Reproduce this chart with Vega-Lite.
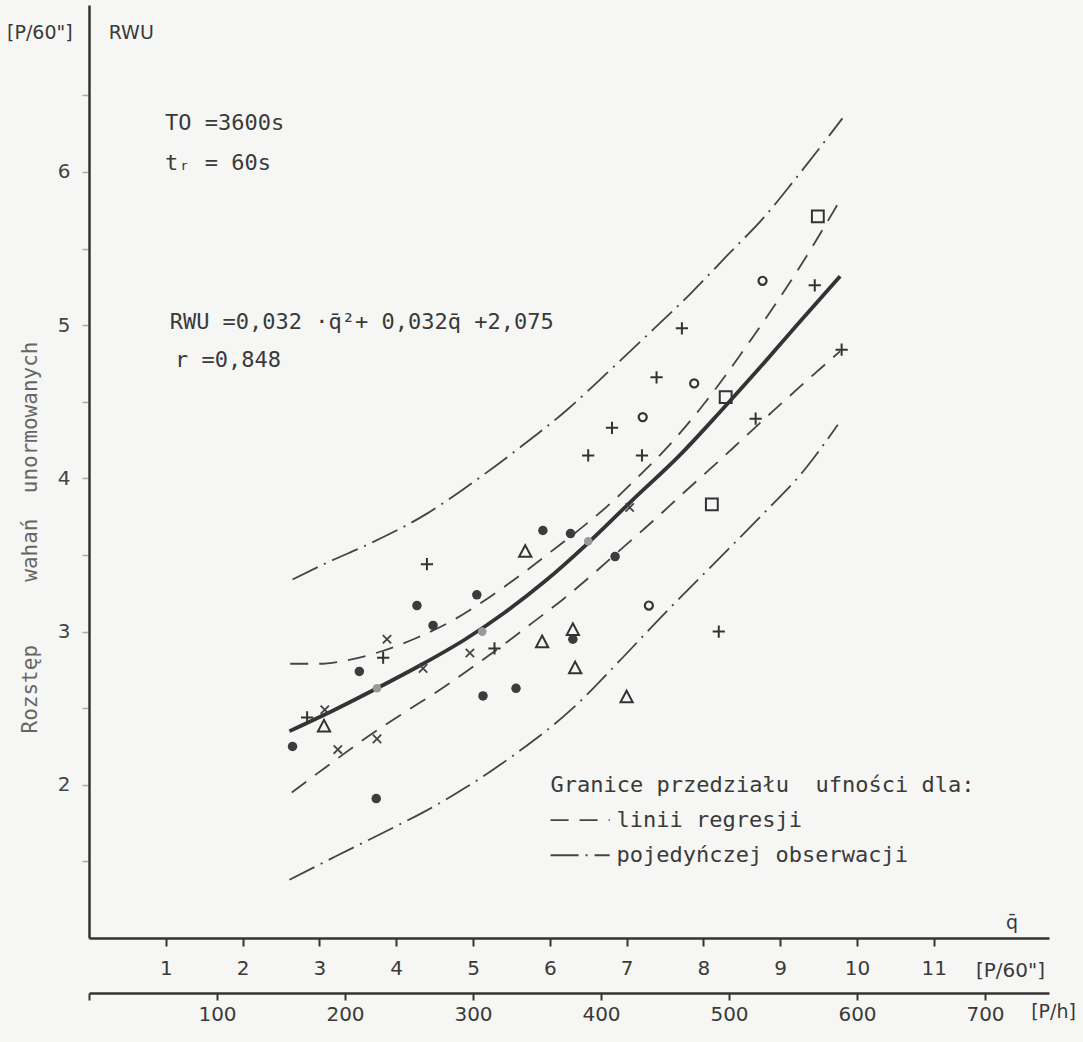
{
  "$schema": "https://vega.github.io/schema/vega-lite/v6.json",
  "width": 960,
  "height": 933,
  "autosize": "none",
  "padding": {"left": 89, "top": 5, "right": 34, "bottom": 104},
  "background": "#f6f6f4",
  "config": {
    "view": {"stroke": null},
    "font": "DejaVu Sans",
    "axis": {"grid": false, "labelFont": "DejaVu Sans", "titleFont": "DejaVu Sans", "titleFontWeight": "normal"}
  },
  "datasets": {
    "curves": [
      {"curve": "reg", "q": 2.61, "v": 2.35}, {"curve": "reg", "q": 3.2, "v": 2.49}, {"curve": "reg", "q": 3.75, "v": 2.63},
      {"curve": "reg", "q": 4.35, "v": 2.79}, {"curve": "reg", "q": 4.9, "v": 2.95}, {"curve": "reg", "q": 5.4, "v": 3.12},
      {"curve": "reg", "q": 5.94, "v": 3.33}, {"curve": "reg", "q": 6.48, "v": 3.57}, {"curve": "reg", "q": 7.08, "v": 3.86},
      {"curve": "reg", "q": 7.69, "v": 4.15}, {"curve": "reg", "q": 8.21, "v": 4.43}, {"curve": "reg", "q": 8.73, "v": 4.72},
      {"curve": "reg", "q": 9.25, "v": 5.02}, {"curve": "reg", "q": 9.78, "v": 5.32},

      {"curve": "reg_up", "q": 2.62, "v": 2.79}, {"curve": "reg_up", "q": 3.0, "v": 2.79}, {"curve": "reg_up", "q": 3.33, "v": 2.81},
      {"curve": "reg_up", "q": 3.8, "v": 2.87}, {"curve": "reg_up", "q": 4.27, "v": 2.96}, {"curve": "reg_up", "q": 4.76, "v": 3.08},
      {"curve": "reg_up", "q": 5.2, "v": 3.22}, {"curve": "reg_up", "q": 5.62, "v": 3.37}, {"curve": "reg_up", "q": 6.01, "v": 3.52},
      {"curve": "reg_up", "q": 6.42, "v": 3.68}, {"curve": "reg_up", "q": 6.82, "v": 3.85}, {"curve": "reg_up", "q": 7.17, "v": 4.02},
      {"curve": "reg_up", "q": 7.58, "v": 4.23}, {"curve": "reg_up", "q": 7.95, "v": 4.45}, {"curve": "reg_up", "q": 8.3, "v": 4.68},
      {"curve": "reg_up", "q": 8.64, "v": 4.92}, {"curve": "reg_up", "q": 9.23, "v": 5.36}, {"curve": "reg_up", "q": 9.75, "v": 5.79},

      {"curve": "reg_lo", "q": 2.64, "v": 1.95}, {"curve": "reg_lo", "q": 3.07, "v": 2.11}, {"curve": "reg_lo", "q": 3.59, "v": 2.3},
      {"curve": "reg_lo", "q": 4.1, "v": 2.47}, {"curve": "reg_lo", "q": 4.57, "v": 2.62}, {"curve": "reg_lo", "q": 5.0, "v": 2.77},
      {"curve": "reg_lo", "q": 5.44, "v": 2.93}, {"curve": "reg_lo", "q": 5.78, "v": 3.06}, {"curve": "reg_lo", "q": 6.17, "v": 3.21},
      {"curve": "reg_lo", "q": 6.55, "v": 3.37}, {"curve": "reg_lo", "q": 6.91, "v": 3.53}, {"curve": "reg_lo", "q": 7.34, "v": 3.72},
      {"curve": "reg_lo", "q": 7.73, "v": 3.9}, {"curve": "reg_lo", "q": 8.15, "v": 4.09}, {"curve": "reg_lo", "q": 8.54, "v": 4.27},
      {"curve": "reg_lo", "q": 8.93, "v": 4.45}, {"curve": "reg_lo", "q": 9.35, "v": 4.64}, {"curve": "reg_lo", "q": 9.78, "v": 4.83},

      {"curve": "obs_up", "q": 2.65, "v": 3.34}, {"curve": "obs_up", "q": 3.1, "v": 3.45}, {"curve": "obs_up", "q": 3.68, "v": 3.58},
      {"curve": "obs_up", "q": 4.4, "v": 3.77}, {"curve": "obs_up", "q": 4.96, "v": 3.96}, {"curve": "obs_up", "q": 5.58, "v": 4.19},
      {"curve": "obs_up", "q": 6.23, "v": 4.45}, {"curve": "obs_up", "q": 6.75, "v": 4.69}, {"curve": "obs_up", "q": 7.3, "v": 4.95},
      {"curve": "obs_up", "q": 7.84, "v": 5.21}, {"curve": "obs_up", "q": 8.32, "v": 5.46}, {"curve": "obs_up", "q": 8.8, "v": 5.71},
      {"curve": "obs_up", "q": 9.19, "v": 5.95}, {"curve": "obs_up", "q": 9.81, "v": 6.35},

      {"curve": "obs_lo", "q": 2.61, "v": 1.38}, {"curve": "obs_lo", "q": 3.2, "v": 1.53}, {"curve": "obs_lo", "q": 3.96, "v": 1.72},
      {"curve": "obs_lo", "q": 4.35, "v": 1.82}, {"curve": "obs_lo", "q": 4.93, "v": 1.99}, {"curve": "obs_lo", "q": 5.52, "v": 2.19},
      {"curve": "obs_lo", "q": 6.3, "v": 2.5}, {"curve": "obs_lo", "q": 6.91, "v": 2.81}, {"curve": "obs_lo", "q": 7.44, "v": 3.09},
      {"curve": "obs_lo", "q": 8.29, "v": 3.52}, {"curve": "obs_lo", "q": 8.78, "v": 3.77}, {"curve": "obs_lo", "q": 9.29, "v": 4.04},
      {"curve": "obs_lo", "q": 9.75, "v": 4.35},

      {"curve": "key_reg", "q": 6.01, "v": 1.77}, {"curve": "key_reg", "q": 6.78, "v": 1.77},
      {"curve": "key_obs", "q": 6.01, "v": 1.54}, {"curve": "key_obs", "q": 6.78, "v": 1.54}
    ],
    "points": [
      {"kind": "filled", "q": 2.65, "v": 2.25}, {"kind": "filled", "q": 3.52, "v": 2.74}, {"kind": "filled", "q": 3.74, "v": 1.91},
      {"kind": "filled", "q": 4.27, "v": 3.17}, {"kind": "filled", "q": 4.48, "v": 3.04}, {"kind": "filled", "q": 5.05, "v": 3.24},
      {"kind": "filled", "q": 5.13, "v": 2.58}, {"kind": "filled", "q": 5.56, "v": 2.63}, {"kind": "filled", "q": 5.91, "v": 3.66},
      {"kind": "filled", "q": 6.27, "v": 3.64}, {"kind": "filled", "q": 6.85, "v": 3.49}, {"kind": "filled", "q": 6.3, "v": 2.95},
      {"kind": "grey", "q": 3.75, "v": 2.63}, {"kind": "grey", "q": 5.12, "v": 3.0}, {"kind": "grey", "q": 6.5, "v": 3.59},
      {"kind": "open", "q": 7.88, "v": 4.62}, {"kind": "open", "q": 7.21, "v": 4.4}, {"kind": "open", "q": 7.29, "v": 3.17},
      {"kind": "open", "q": 8.77, "v": 5.29},
      {"kind": "square", "q": 9.49, "v": 5.71}, {"kind": "square", "q": 8.29, "v": 4.53}, {"kind": "square", "q": 8.11, "v": 3.83},
      {"kind": "plus", "q": 2.84, "v": 2.44}, {"kind": "plus", "q": 3.83, "v": 2.83}, {"kind": "plus", "q": 4.4, "v": 3.44},
      {"kind": "plus", "q": 5.28, "v": 2.89}, {"kind": "plus", "q": 6.5, "v": 4.15}, {"kind": "plus", "q": 6.81, "v": 4.33},
      {"kind": "plus", "q": 7.2, "v": 4.15}, {"kind": "plus", "q": 7.39, "v": 4.66}, {"kind": "plus", "q": 7.72, "v": 4.98},
      {"kind": "plus", "q": 8.2, "v": 3.0}, {"kind": "plus", "q": 8.68, "v": 4.39}, {"kind": "plus", "q": 9.45, "v": 5.26},
      {"kind": "plus", "q": 9.8, "v": 4.84},
      {"kind": "cross", "q": 3.07, "v": 2.49}, {"kind": "cross", "q": 3.24, "v": 2.23}, {"kind": "cross", "q": 3.75, "v": 2.3},
      {"kind": "cross", "q": 3.88, "v": 2.95}, {"kind": "cross", "q": 4.35, "v": 2.76}, {"kind": "cross", "q": 4.96, "v": 2.86},
      {"kind": "cross", "q": 7.04, "v": 3.81},
      {"kind": "triangle", "q": 3.06, "v": 2.38}, {"kind": "triangle", "q": 5.68, "v": 3.52}, {"kind": "triangle", "q": 5.9, "v": 2.93},
      {"kind": "triangle", "q": 6.3, "v": 3.01}, {"kind": "triangle", "q": 6.33, "v": 2.76}, {"kind": "triangle", "q": 7.0, "v": 2.57}
    ],
    "notes": [
      {"label": "TO =3600s", "q": 0.99, "v": 6.32},
      {"label": "tᵣ = 60s", "q": 0.99, "v": 6.06},
      {"label": "RWU =0,032 ·q̄²+ 0,032q̄ +2,075", "q": 1.05, "v": 5.02},
      {"label": "r =0,848", "q": 1.12, "v": 4.77},
      {"label": "Granice przedziału\u00a0 ufności dla:", "q": 6.01, "v": 2.0},
      {"label": "linii regresji", "q": 6.87, "v": 1.77},
      {"label": "pojedyńczej obserwacji", "q": 6.87, "v": 1.54}
    ],
    "heads": [
      {"label": "[P/60\"]", "q": -0.64, "v": 6.91},
      {"label": "RWU", "q": 0.55, "v": 6.91},
      {"label": "q̄", "q": 12.02, "v": 1.1}
    ]
  },
  "layer": [
    {
      "encoding": {
        "x": {
          "field": "q", "type": "quantitative",
          "scale": {"domain": [0, 12.5], "nice": false, "zero": false},
          "axis": {
            "values": [1, 2, 3, 4, 5, 6, 7, 8, 9, 10, 11],
            "domainColor": "#333", "domainWidth": 2.5,
            "tickColor": "#333", "tickWidth": 2, "tickSize": 8,
            "labelFontSize": 20, "labelColor": "#3a3a3a", "labelPadding": 12,
            "title": "[P/60\"]", "titleFontSize": 20, "titleColor": "#3a3a3a",
            "titleX": 921, "titleY": 32, "titleAlign": "center", "titleBaseline": "middle"
          }
        },
        "y": {
          "field": "v", "type": "quantitative",
          "scale": {"domain": [1, 7.09], "nice": false, "zero": false},
          "axis": {
            "values": [1.5, 2, 2.5, 3, 3.5, 4, 4.5, 5, 5.5, 6, 6.5],
            "labelExpr": "datum.value % 1 === 0 ? format(datum.value, 'd') : ''",
            "domainColor": "#333", "domainWidth": 2.5,
            "tickColor": "#aaa", "tickWidth": 1.5, "tickSize": 7,
            "labelFontSize": 20, "labelColor": "#444", "labelPadding": 12,
            "title": "Rozstęp\u00a0\u00a0\u00a0\u00a0 wahań\u00a0 unormowanych", "titleFont": "DejaVu Sans Mono", "titleFontSize": 21, "titleColor": "#666",
            "titleX": -59, "titleY": 532, "titleAngle": -90, "titleAlign": "center", "titleBaseline": "middle"
          }
        }
      },
      "layer": [
        {
          "data": {"name": "curves"},
          "transform": [{"filter": "datum.curve === 'obs_up' || datum.curve === 'obs_lo' || datum.curve === 'key_obs'"}],
          "mark": {"type": "line", "interpolate": "monotone", "color": "#444", "strokeWidth": 1.8, "strokeDash": [28, 7, 2, 7]},
          "encoding": {"detail": {"field": "curve"}}
        },
        {
          "data": {"name": "curves"},
          "transform": [{"filter": "datum.curve === 'reg_up' || datum.curve === 'reg_lo' || datum.curve === 'key_reg'"}],
          "mark": {"type": "line", "interpolate": "monotone", "color": "#444", "strokeWidth": 1.8, "strokeDash": [18, 11]},
          "encoding": {"detail": {"field": "curve"}}
        },
        {
          "data": {"name": "curves"},
          "transform": [{"filter": "datum.curve === 'reg'"}],
          "mark": {"type": "line", "interpolate": "monotone", "color": "#333", "strokeWidth": 3.8},
          "encoding": {}
        },
        {
          "data": {"name": "points"},
          "transform": [{"filter": "datum.kind === 'filled'"}],
          "mark": {"type": "point", "shape": "circle", "filled": true, "color": "#3c3c3c", "size": 90, "opacity": 1}
        },
        {
          "data": {"name": "points"},
          "transform": [{"filter": "datum.kind === 'grey'"}],
          "mark": {"type": "point", "shape": "circle", "filled": true, "color": "#999", "size": 75, "opacity": 1}
        },
        {
          "data": {"name": "points"},
          "transform": [{"filter": "datum.kind === 'open'"}],
          "mark": {"type": "point", "shape": "circle", "filled": false, "color": "#333", "strokeWidth": 2.2, "size": 65, "opacity": 1}
        },
        {
          "data": {"name": "points"},
          "transform": [{"filter": "datum.kind === 'square'"}],
          "mark": {"type": "point", "shape": "square", "filled": false, "color": "#333", "strokeWidth": 2, "size": 140, "opacity": 1}
        },
        {
          "data": {"name": "points"},
          "transform": [{"filter": "datum.kind === 'plus'"}],
          "mark": {"type": "point", "shape": "M-1,0L1,0M0,-1L0,1", "filled": false, "color": "#333", "strokeWidth": 2, "size": 150, "opacity": 1}
        },
        {
          "data": {"name": "points"},
          "transform": [{"filter": "datum.kind === 'cross'"}],
          "mark": {"type": "point", "shape": "M-1,-1L1,1M-1,1L1,-1", "filled": false, "color": "#444", "strokeWidth": 1.8, "size": 70, "opacity": 1}
        },
        {
          "data": {"name": "points"},
          "transform": [{"filter": "datum.kind === 'triangle'"}],
          "mark": {"type": "point", "shape": "M0,-1.1L1,0.8L-1,0.8Z", "filled": false, "color": "#333", "strokeWidth": 2, "size": 150, "opacity": 1}
        },
        {
          "data": {"name": "notes"},
          "mark": {"type": "text", "font": "DejaVu Sans Mono", "fontSize": 22, "color": "#3a3a3a", "align": "left", "baseline": "middle"},
          "encoding": {"text": {"field": "label"}}
        },
        {
          "data": {"name": "heads"},
          "mark": {"type": "text", "fontSize": 19, "color": "#3a3a3a", "align": "center", "baseline": "middle"},
          "encoding": {"text": {"field": "label"}}
        }
      ]
    },
    {
      "data": {"values": [{"ph": 0}]},
      "mark": {"type": "point", "opacity": 0},
      "encoding": {
        "x": {
          "field": "ph", "type": "quantitative",
          "scale": {"domain": [0, 750], "nice": false, "zero": false},
          "axis": {
            "orient": "bottom", "offset": 55,
            "values": [0, 100, 200, 300, 400, 500, 600, 700],
            "labelExpr": "datum.value === 0 ? '' : datum.label",
            "domainColor": "#333", "domainWidth": 2.5,
            "tickColor": "#333", "tickWidth": 2, "tickSize": 7,
            "labelFontSize": 20, "labelColor": "#3a3a3a", "labelPadding": 4,
            "title": "[P/h]", "titleFontSize": 19, "titleColor": "#3a3a3a",
            "titleX": 964, "titleY": 18, "titleAlign": "center", "titleBaseline": "middle"
          }
        }
      }
    }
  ],
  "resolve": {"scale": {"x": "independent"}}
}
